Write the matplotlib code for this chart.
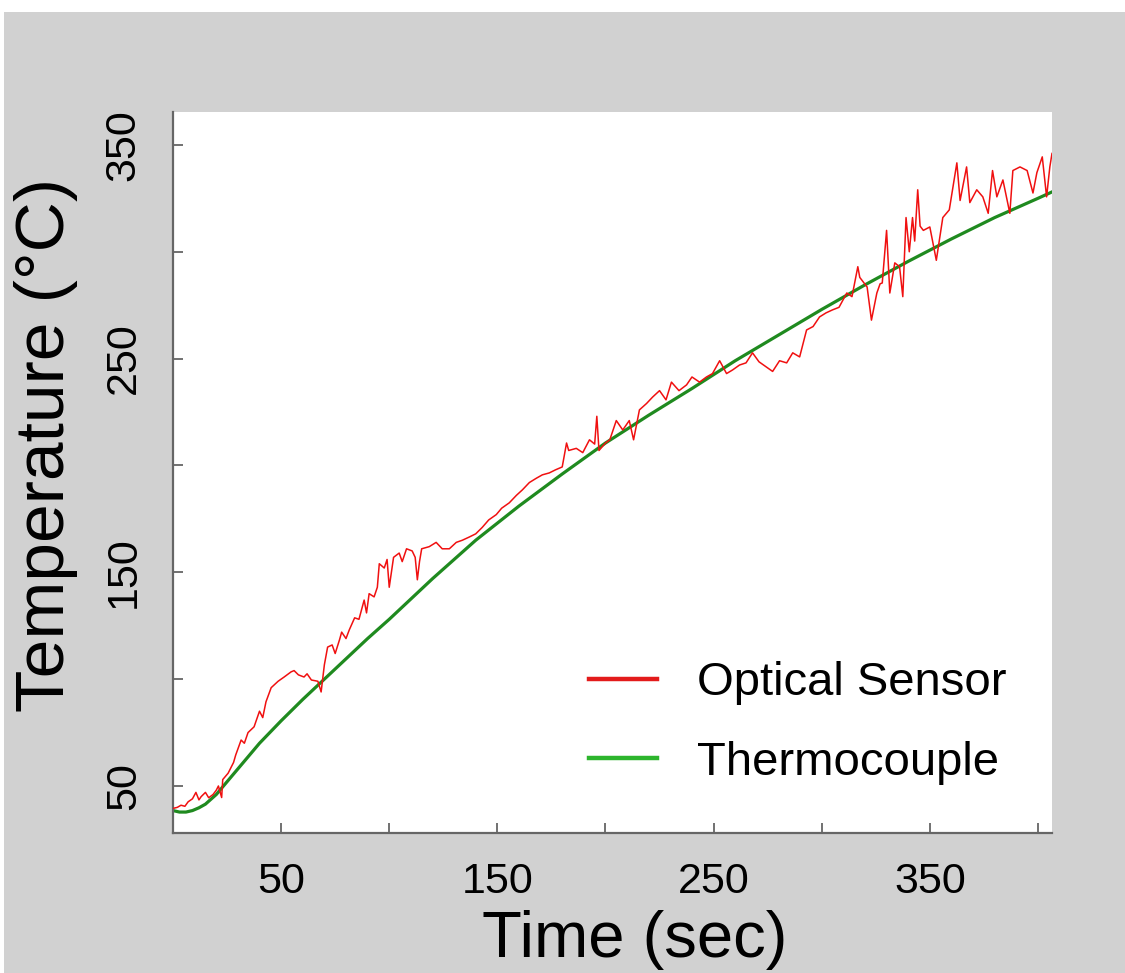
import matplotlib
matplotlib.use("Agg")
import matplotlib.pyplot as plt
from matplotlib.lines import Line2D
from matplotlib.patches import Rectangle

plt.rcParams['font.family'] = ['Liberation Sans', 'DejaVu Sans']

# thermocouple (smooth reference curve)
tc_time = [0, 3, 6, 9, 12, 15, 20, 25, 30, 40, 50, 60, 70, 80, 90, 100, 120, 140,
           160, 180, 200, 220, 240, 260, 280, 300, 320, 340, 360, 380, 400, 406.5]
tc_temp = [38.5, 37.8, 37.8, 38.5, 39.8, 41.5, 46, 52, 58, 70, 80.5, 90.5, 100, 109.5,
           119, 128, 147, 165, 181, 196, 210.5, 223.5, 236, 249, 261, 273, 284.5,
           295.5, 306, 316, 325, 328]

# optical sensor (noisy)
opt_time = [0, 2, 3.7, 5.5, 7, 9, 10.6, 12, 13, 15, 16.5, 18.5, 20, 21, 22.5, 23, 25.5,
            28, 29, 31.5, 33, 34.7, 37.5, 40, 41.5, 43, 45.4, 48.6, 51.4, 54.6, 56, 58,
            60.6, 62, 64, 67, 68.5, 70, 71.5, 73.6, 75, 77, 78, 80, 81.5, 84, 86, 88.4,
            89.5, 90.7, 93, 94.5, 95.4, 97.7, 99, 100, 102, 104.6, 106, 108, 110.6, 112,
            113, 114, 115, 118.5, 121.7, 124.5, 127.8, 131, 133.8, 137, 140, 143, 146,
            149.5, 152, 155.5, 158.8, 161.6, 164.8, 168, 170.8, 174, 177, 180, 182, 183,
            186.5, 189.5, 192.6, 195, 196, 197, 200, 202, 205, 208, 211, 213, 215.7, 219,
            221.8, 225, 228, 230.5, 234, 237.5, 240, 243.5, 246.7, 249.5, 252.8, 256,
            258.8, 262, 265, 268, 271, 274.5, 277.3, 280.5, 283.8, 286.6, 289.8, 293, 296,
            299, 302, 305, 308, 311.6, 314, 316.7, 317.6, 321, 323, 325.5, 327, 328, 330,
            331.5, 333.8, 336, 337.5, 339, 340.5, 342, 343, 344.4, 345.5, 347, 350, 353,
            356, 359, 362.5, 364, 367, 368.5, 371.7, 374.5, 377, 379, 381, 383.8, 387,
            388.4, 391.7, 395, 397.7, 399.5, 402, 404, 405.5, 406.5]
opt_temp = [39.5, 40, 41, 40.5, 42.6, 44, 47, 43.5, 45, 47, 44.5, 46, 48, 50, 44.6, 53, 56,
            61, 64.5, 71.5, 70, 75, 77.7, 85, 82, 89.4, 96, 99, 101, 103.4, 104, 102,
            101, 102.5, 99.6, 99, 94, 106.7, 115, 116, 112, 118.4, 122, 119, 123, 128.7,
            128, 137, 131, 140, 138.5, 143, 154, 152, 156, 143, 157, 159, 155, 161, 160,
            157, 146.5, 155, 161, 162, 164, 161, 161, 164, 165, 166.5, 168, 171, 174.5,
            177, 180, 182.5, 186, 188.6, 192, 194, 195.6, 196.5, 198, 199.3, 210.5, 207,
            208, 206, 212, 210, 223, 207, 210.5, 212, 221, 216.6, 221, 212, 226, 229,
            232, 235, 230.7, 239, 235, 237.7, 241.4, 239, 241.4, 243, 249, 243,
            244.7, 247, 248, 252.7, 248.5, 246, 244, 249, 248, 252.7, 250.8, 263.4, 265,
            269.5, 271.4, 272.8, 274, 280.7, 279, 293, 288, 283.5, 268, 280.7, 285, 285.4,
            310, 280.7, 294.8, 293, 279, 316, 300, 316, 305, 329, 312, 310, 311.6, 296,
            316, 319.6, 341.6, 324, 339.7, 323, 329, 325.7, 318, 338, 325.7, 333.6, 318,
            338, 339.7, 338, 327.5, 337, 344.4, 325.7, 339.7, 346]

x_major = [50, 150, 250, 350]
x_minor = [0, 100, 200, 300, 400]
y_major = [50, 150, 250, 350]
y_minor = [100, 200, 300]

fig = plt.figure(figsize=(11.25, 9.73), dpi=100, facecolor="white")
fig.patches.append(Rectangle((4 / 1125, 0), 1, 1 - 12 / 973, transform=fig.transFigure,
                             facecolor="#d1d1d1", edgecolor="none", zorder=-10))
ax = fig.add_axes([173 / 1125, 1 - 833 / 973, (1052 - 173) / 1125, (833 - 112) / 973])
ax.set_facecolor("white")

ax.plot(tc_time, tc_temp, color="#1f8a1f", lw=2.3, zorder=2)
ax.plot(opt_time, opt_temp, color="#f01010", lw=1.1, zorder=3)

ax.set_xlim(0, 406.5)
ax.set_ylim(28, 365.4)

for s in ["top", "right"]:
    ax.spines[s].set_visible(False)
for s in ["left", "bottom"]:
    ax.spines[s].set_color("#666666")
    ax.spines[s].set_linewidth(1.6)

ax.set_xticks(x_major)
ax.set_xticks(x_minor, minor=True)
ax.set_yticks(y_major)
ax.set_yticks(y_minor, minor=True)
ax.set_yticklabels([str(v) for v in y_major], rotation=90, va="center")
ax.tick_params(which="both", direction="in", length=7, width=1.3, color="#666666")
ax.tick_params(axis="x", which="major", labelsize=31, pad=21)
ax.tick_params(axis="y", which="major", labelsize=31, pad=21)

ax.set_xlabel("Time (sec)", fontsize=47, va="center")
ax.xaxis.set_label_coords(0.525, -0.148)
ax.set_ylabel("Temperature (°C)", fontsize=50, va="center")
ax.yaxis.set_label_coords(-0.144, 0.538)

custom_lines = [Line2D([0], [0], color="#e31b1b", lw=3.2),
                Line2D([0], [0], color="#2db52d", lw=3.2)]
ax.legend(custom_lines, ["Optical Sensor", "Thermocouple"], loc="upper left",
          bbox_to_anchor=(0.473, 0.238), frameon=False, fontsize=34,
          handlelength=1.45, handletextpad=0.85, labelspacing=0.75,
          borderpad=0, borderaxespad=0)

plt.savefig("out.png", dpi=100, facecolor=fig.get_facecolor())
